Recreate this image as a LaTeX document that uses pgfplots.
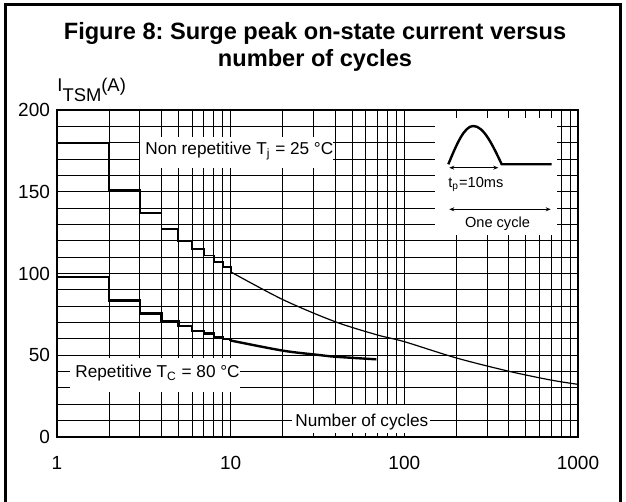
\documentclass[border=0pt]{standalone}
\usepackage{pgfplots}
\pgfplotsset{compat=1.18}
\usepackage{fontspec}
\setmainfont{Liberation Sans}
\usetikzlibrary{arrows.meta}
\frenchspacing

\begin{document}
\begin{tikzpicture}[x=0.5pt,y=0.5pt]
\useasboundingbox (0,0) rectangle (626,502);
\begin{axis}[
  at={(28.5pt,32.5pt)}, anchor=south west,
  scale only axis, width=260.5pt, height=163.5pt,
  xmode=log, log basis x=10,
  xmin=1, xmax=1000, ymin=0, ymax=200,
  xtick={1,10,100,1000}, xticklabels={1,10,100,1000},
  minor xtick={2,3,4,5,6,7,8,9,20,30,40,50,60,70,80,90,200,300,400,500,600,700,800,900},
  ytick={0,50,100,150,200},
  minor ytick={10,20,30,40,60,70,80,90,110,120,130,140,160,170,180,190},
  grid=both,
  major grid style={black, line width=0.5pt},
  minor grid style={black, line width=0.5pt},
  major tick length=0pt, minor tick length=0pt,
  axis line style={black, line width=0.6pt},
  tick label style={font=\fontsize{9.5}{11}\selectfont},
  xticklabel style={yshift=-6pt},
  /pgf/number format/assume math mode=true,
]
% Non repetitive Tj = 25 C
\addplot[const plot, black, line width=0.9pt] coordinates {(1,180)(2,151)(3,137)(4,127)(5,120)(6,115)(7,111)(8,107)(9,104)(10,101)};
\addplot[smooth, black, line width=0.6pt] coordinates {(10,101)(20,84)(40,70.5)(70,62.4)(100,58.3)(200,48.3)(400,40.2)(700,34.8)(1000,32.2)};
% Repetitive Tc = 80 C
\addplot[const plot, black, line width=1.2pt] coordinates {(1,98)(2,83.5)(3,75.5)(4,70.7)(5,68)(6,65)(7,63.4)(8,61)(9,60)(10,59)};
\addplot[smooth, black, line width=1.2pt] coordinates {(10,59)(20,52.8)(32,50.2)(40,49.1)(69,47.5)};
\end{axis}

% labels with white boxes
\fill[white] (140,334) rectangle (333,365);
\node[anchor=base west, inner sep=0pt, font=\fontsize{8.6}{10}\selectfont] at (145,347) {Non repetitive T\textsubscript{j} = 25 °C};
\fill[white] (70,110) rectangle (240,144);
\node[anchor=base west, inner sep=0pt, font=\fontsize{8.6}{10}\selectfont] at (75,124) {Repetitive T\textsubscript{C} = 80 °C};
\fill[white] (292,69) rectangle (430,97);
\node[anchor=base west, inner sep=0pt, font=\fontsize{8.6}{10}\selectfont] at (295,75) {Number of cycles};

% inset
\fill[white] (435,267) rectangle (557,384);
\draw[line width=1.2pt] (448.3,337.7) sin (473.3,376) cos (501.7,337.7) -- (551.7,337.7);
\draw[line width=0.5pt, {Stealth[length=2.5pt,width=2pt]}-{Stealth[length=2.5pt,width=2pt]}] (449.3,334.3) -- (498.3,334.3);
\node[anchor=base west, inner sep=0pt, font=\fontsize{7.3}{9}\selectfont] at (448,314) {t\textsubscript{p}=10ms};
\draw[line width=0.5pt, {Stealth[length=2.5pt,width=2pt]}-{Stealth[length=2.5pt,width=2pt]}] (449.3,292.7) -- (550.7,292.7);
\node[anchor=base, inner sep=0pt, font=\fontsize{7.3}{9}\selectfont] at (497.5,274) {One cycle};

% title
\node[anchor=base, inner sep=0pt, font=\bfseries\fontsize{11.8}{13}\selectfont] at (315,462) {Figure 8: Surge peak on-state current versus};
\node[anchor=base, inner sep=0pt, font=\bfseries\fontsize{11.8}{13}\selectfont] at (315,435) {number of cycles};

% y label
\node[anchor=base west, inner sep=0pt, font=\fontsize{9.2}{10}\selectfont] at (57,410) {I\raisebox{-5pt}{TSM}(A)};

% frame
\draw[line width=1.5pt] (5,-20) -- (5,497) -- (620,497) -- (620,-20);
\end{tikzpicture}
\end{document}
